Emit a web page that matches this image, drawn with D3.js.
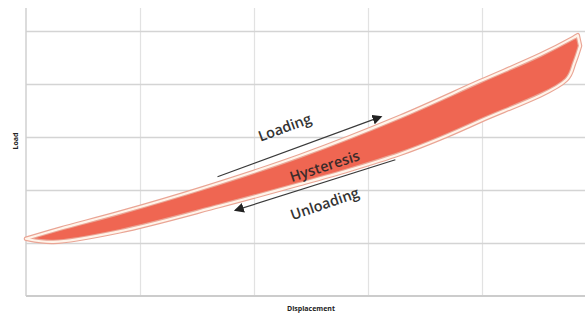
<!DOCTYPE html>
<html>
<head>
<meta charset="utf-8">
<script src="https://cdn.jsdelivr.net/npm/d3@7"></script>
<style>
  body { margin: 0; background: #fff; }
  text { font-family: "Open Sans", "Liberation Sans", sans-serif; }
</style>
</head>
<body>
<div id="chart"></div>
<script>
// loading branch (upper edge of the loop)
var loadX = [0.00, 0.30, 0.82, 1.53, 2.40, 3.28, 3.98, 4.51, 4.80, 4.84];
var loadY = [1.08, 1.27, 1.57, 2.02, 2.64, 3.38, 4.05, 4.55, 4.87, 4.92];
// unloading branch (lower edge, going back to the origin)
var unloadX = [4.86, 4.81, 4.74, 3.98, 3.63, 3.28, 2.84, 2.40, 1.70, 0.82, 0.24, 0.02];
var unloadY = [4.72, 4.40, 4.08, 3.30, 2.97, 2.68, 2.38, 2.11, 1.70, 1.22, 1.02, 1.07];

var gridTicks = [1, 2, 3, 4, 5];

// annotation arrows and labels (data units)
var arrowLoading = [[1.68, 2.25], [3.11, 3.38]];
var arrowUnloading = [[3.24, 2.57], [1.84, 1.62]];
var labelNames = ["Loading", "Hysteresis", "Unloading"];
var labelPos = [[2.27, 3.18], [2.62, 2.45], [2.62, 1.74]];

var svgWidth = 585;
var svgHeight = 315;
var margin = { top: 8, right: 0, bottom: 19, left: 26 };
var width = svgWidth - margin.left - margin.right;
var height = svgHeight - margin.top - margin.bottom;

var svg = d3.select("#chart")
  .append("svg")
  .attr("width", svgWidth)
  .attr("height", svgHeight);

var chartGroup = svg.append("g")
  .attr("transform", `translate(${margin.left}, ${margin.top})`);

var xScale = d3.scaleLinear().domain([0, width / 114]).range([0, width]);
var yScale = d3.scaleLinear().domain([0, height / 53]).range([height, 0]);

// gridlines
var xGrid = d3.axisBottom(xScale).tickValues(gridTicks).tickSize(-height).tickFormat("");
var yGrid = d3.axisLeft(yScale).tickValues(gridTicks).tickSize(-width).tickFormat("");

chartGroup.append("g")
  .attr("transform", `translate(0, ${height})`)
  .call(xGrid)
  .call(g => g.select(".domain").remove())
  .selectAll("line").attr("stroke", "#e2e2e2").attr("stroke-width", 1.2);

chartGroup.append("g")
  .call(yGrid)
  .call(g => g.select(".domain").remove())
  .selectAll("line").attr("stroke", "#d4d4d4").attr("stroke-width", 1.6);

// axis lines
chartGroup.append("line")
  .attr("x1", 0).attr("x2", 0).attr("y1", 0).attr("y2", height)
  .attr("stroke", "#d0d0d0").attr("stroke-width", 1.5);
chartGroup.append("line")
  .attr("x1", 0).attr("x2", width).attr("y1", height).attr("y2", height)
  .attr("stroke", "#cccccc").attr("stroke-width", 1.8);

// hysteresis loop: two smooth branches joined into one closed shape
var branch = d3.line()
  .x(d => xScale(d[0]))
  .y(d => yScale(d[1]))
  .curve(d3.curveCatmullRom.alpha(0.5));

var upPath = branch(loadX.map((x, i) => [x, loadY[i]]));
var downPath = branch(unloadX.map((x, i) => [x, unloadY[i]]));
var loopD = upPath + "L" + downPath.slice(1) + "Z";

chartGroup.append("path")
  .attr("d", loopD)
  .attr("fill", "#ef6652")
  .attr("stroke", "#eaa595")
  .attr("stroke-width", 4.5)
  .attr("stroke-linejoin", "round");

chartGroup.append("path")
  .attr("d", loopD)
  .attr("fill", "none")
  .attr("stroke", "#fff4ea")
  .attr("stroke-width", 2.2)
  .attr("stroke-linejoin", "round");

// arrows
svg.append("defs").append("marker")
  .attr("id", "head")
  .attr("viewBox", "0 0 10 10")
  .attr("refX", 8).attr("refY", 5)
  .attr("markerWidth", 10).attr("markerHeight", 10)
  .attr("markerUnits", "userSpaceOnUse")
  .attr("orient", "auto")
  .append("path")
  .attr("d", "M0,0L10,5L0,10Z")
  .attr("fill", "#222");

[arrowLoading, arrowUnloading].forEach(function(a) {
  chartGroup.append("line")
    .attr("x1", xScale(a[0][0])).attr("y1", yScale(a[0][1]))
    .attr("x2", xScale(a[1][0])).attr("y2", yScale(a[1][1]))
    .attr("stroke", "#3a3a3a")
    .attr("stroke-width", 1.2)
    .attr("marker-end", "url(#head)");
});

// labels along the loop
var labelAngle = [-20, -18, -19];
var labelColor = ["#333333", "#3b2b2a", "#333333"];
labelNames.forEach(function(name, i) {
  chartGroup.append("text")
    .attr("transform", `translate(${xScale(labelPos[i][0])}, ${yScale(labelPos[i][1])}) rotate(${labelAngle[i]})`)
    .attr("text-anchor", "middle")
    .attr("dy", "0.35em")
    .attr("font-size", "14.5px")
    .attr("font-weight", "600")
    .attr("fill", labelColor[i])
    .text(name);
});

// axis titles
svg.append("text")
  .attr("transform", `translate(18, ${margin.top + 133}) rotate(-90)`)
  .attr("text-anchor", "middle")
  .attr("font-size", "7px")
  .attr("font-weight", "bold")
  .attr("fill", "#222")
  .text("Load");

svg.append("text")
  .attr("x", 311)
  .attr("y", 311)
  .attr("text-anchor", "middle")
  .attr("font-size", "7px")
  .attr("font-weight", "bold")
  .attr("fill", "#222")
  .text("Displacement");
</script>
</body>
</html>
